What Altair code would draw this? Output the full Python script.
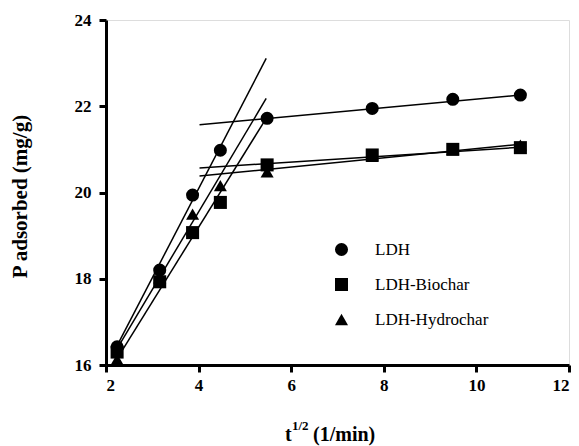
import altair as alt
import pandas as pd

# ---- data ----
x_vals = [2.24, 3.16, 3.87, 4.47, 5.48, 7.75, 9.49, 10.95]
ldh = [16.42, 18.20, 19.94, 20.98, 21.72, 21.95, 22.16, 22.26]
biochar = [16.30, 17.93, 19.07, 19.77, 20.64, 20.87, 21.00, 21.04]
hydrochar = [16.13, 18.02, 19.50, 20.16, 20.48, 20.84, 21.00, 21.10]
series_names = ["LDH", "LDH-Biochar", "LDH-Hydrochar"]

# fitted line segments (start / end)
seg_id = ["ldh1", "hyd1", "bio1", "ldh2", "bio2", "hyd2"]
seg_x0 = [2.24, 2.24, 2.24, 4.02, 4.02, 4.02]
seg_y0 = [16.45, 16.38, 16.15, 21.57, 20.57, 20.38]
seg_x1 = [5.46, 5.46, 5.46, 10.95, 10.95, 10.95]
seg_y1 = [23.11, 22.18, 21.72, 22.26, 21.05, 21.12]

# drawing order: hydrochar underneath, LDH on top
draw_order = [("LDH-Hydrochar", hydrochar), ("LDH-Biochar", biochar), ("LDH", ldh)]
pts = pd.DataFrame(
    [{"x": x, "y": v, "series": s}
     for s, vals in draw_order
     for x, v in zip(x_vals, vals)]
)
segs = pd.DataFrame(
    [{"seg": i, "x": a, "y": b} for i, a, b in zip(seg_id, seg_x0, seg_y0)]
    + [{"seg": i, "x": a, "y": b} for i, a, b in zip(seg_id, seg_x1, seg_y1)]
)

FONT = "Liberation Serif"
W, H = 463, 345

xscale = alt.Scale(domain=[2, 12], nice=False, zero=False)
yscale = alt.Scale(domain=[16, 24], nice=False, zero=False)

xaxis = alt.Axis(values=[2, 4, 6, 8, 10, 12], title=None, labelPadding=5)
yaxis = alt.Axis(values=[16, 18, 20, 22, 24], title="P adsorbed (mg/g)", labelPadding=8,
                 titleX=-86, titleY=176, titleBaseline="middle", titleAngle=270)

lines = alt.Chart(segs).mark_line(color="black", strokeWidth=1.5).encode(
    x=alt.X("x:Q", scale=xscale, axis=xaxis),
    y=alt.Y("y:Q", scale=yscale, axis=yaxis),
    detail="seg:N",
)

points = alt.Chart(pts).mark_point(filled=True, opacity=1, size=170, color="black").encode(
    x=alt.X("x:Q", scale=xscale, axis=xaxis),
    y=alt.Y("y:Q", scale=yscale, axis=yaxis),
    shape=alt.Shape("series:N",
                    scale=alt.Scale(domain=series_names,
                                    range=["circle", "square", "triangle-up"]),
                    legend=alt.Legend(title=None, orient="none", legendX=227, legendY=221,
                                      padding=0, labelFont=FONT, labelFontSize=17,
                                      labelColor="black", symbolSize=170,
                                      symbolFillColor="black", symbolStrokeColor="black",
                                      symbolStrokeWidth=0, labelOffset=25, rowPadding=17)),
)

t_main = alt.Chart(pd.DataFrame({"t": ["t"]})).mark_text(
    font=FONT, fontSize=20, fontWeight="bold", align="left", baseline="alphabetic",
    color="black").encode(x=alt.value(179), y=alt.value(421), text="t:N")
t_sup = alt.Chart(pd.DataFrame({"t": ["1/2"]})).mark_text(
    font=FONT, fontSize=13, fontWeight="bold", align="left", baseline="alphabetic",
    color="black").encode(x=alt.value(186), y=alt.value(410), text="t:N")
t_unit = alt.Chart(pd.DataFrame({"t": ["(1/min)"]})).mark_text(
    font=FONT, fontSize=20, fontWeight="bold", align="left", baseline="alphabetic",
    color="black").encode(x=alt.value(207), y=alt.value(421), text="t:N")

chart = alt.layer(lines, points, t_main, t_sup, t_unit).properties(
    width=W, height=H,
    autosize=alt.AutoSizeParams(type="none"),
    padding={"left": 106, "top": 20, "right": 10, "bottom": 81},
).configure_view(stroke=None).configure(background="white").configure_axis(
    grid=False, domainWidth=3, domainColor="black", tickWidth=3, tickSize=7,
    tickColor="black", labelFont=FONT, labelFontSize=17, labelFontWeight="bold",
    labelColor="black", titleFont=FONT, titleFontSize=21, titleFontWeight="bold",
    titleColor="black",
)

chart.save("out.html", embed_options={"renderer": "svg", "actions": False})
